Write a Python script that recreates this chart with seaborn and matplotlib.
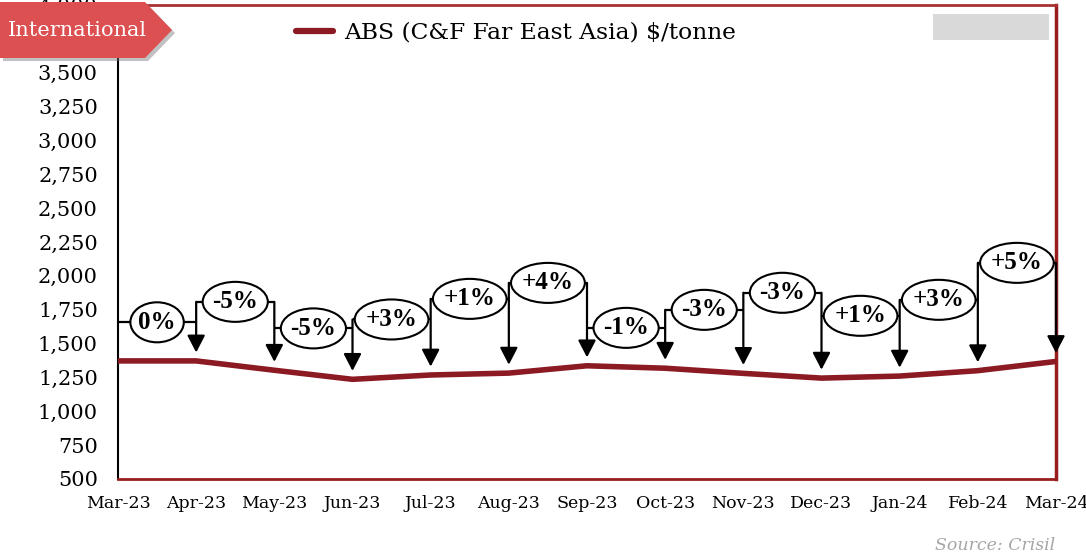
import numpy as np
import pandas as pd
import matplotlib
matplotlib.use("Agg")
import matplotlib.pyplot as plt
from matplotlib.patches import Polygon, Rectangle, Ellipse
from matplotlib.ticker import FuncFormatter
import seaborn as sns

# Monthly ABS prices, C&F Far East Asia ($/tonne)
months = ["Mar-23", "Apr-23", "May-23", "Jun-23", "Jul-23", "Aug-23", "Sep-23",
          "Oct-23", "Nov-23", "Dec-23", "Jan-24", "Feb-24", "Mar-24"]
abs_price = [1372, 1372, 1303, 1236, 1268, 1282, 1336, 1318, 1280, 1245, 1260, 1300, 1368]
series_name = "ABS (C&F Far East Asia) $/tonne"
y_ticks = list(range(500, 4001, 250))

# vertical placement of the month-on-month change callouts
callout_y = [1657, 1808, 1612, 1678, 1830, 1948, 1616, 1749, 1875, 1705, 1823, 2096]

LINE = "#8b1a23"
AXRED = "#981e1e"
BADGE = "#dc5052"

sns.set_theme(style="white")
plt.rcParams["font.family"] = ["DejaVu Serif"]
plt.rcParams["text.color"] = "black"

W, H = 1086, 559
fig = plt.figure(figsize=(W / 100, H / 100), dpi=100)
ax = fig.add_axes([118 / W, 80 / H, 938 / W, 474 / H])

df = pd.DataFrame({"month": np.arange(len(months)), "price": abs_price,
                   "series": series_name})
sns.lineplot(data=df, x="month", y="price", hue="series", palette=[LINE],
             linewidth=4, ax=ax, zorder=6)

ax.set_xlim(0, len(months) - 1)
ax.set_ylim(y_ticks[0], y_ticks[-1])
ax.set_xticks(np.arange(len(months)))
ax.set_xticklabels(months)
ax.set_yticks(y_ticks)
ax.yaxis.set_major_formatter(FuncFormatter(lambda v, p: f"{int(v):,}"))
ax.set_xlabel("")
ax.set_ylabel("")

for lab in ax.get_yticklabels():
    lab.set_fontsize(15)
for lab in ax.get_xticklabels():
    lab.set_fontsize(12.5)

ax.tick_params(axis="x", direction="out", length=4.5, width=1.5, color=AXRED,
               pad=7, labelcolor="black")
ax.tick_params(axis="y", direction="out", length=4.5, width=1.5, color="black",
               pad=10, labelcolor="black")
ax.spines["left"].set_color("black")
ax.spines["left"].set_linewidth(1.5)
ax.spines["bottom"].set_color(AXRED)
ax.spines["bottom"].set_linewidth(2)
ax.spines["right"].set_color(AXRED)
ax.spines["right"].set_linewidth(2.5)
ax.spines["top"].set_color("#a83232")
ax.spines["top"].set_linewidth(2)
ax.grid(False)

# month-on-month change callouts with leader arrows
n = len(abs_price)
changes = [round((abs_price[i + 1] / abs_price[i] - 1) * 100) for i in range(n - 1)]
labels = [f"{c:+d}%" if c != 0 else "0%" for c in changes]

renderer = fig.canvas.get_renderer()
x_per_px = (len(months) - 1) / ax.bbox.width
y_per_px = (y_ticks[-1] - y_ticks[0]) / ax.bbox.height
ell_h_px = 40

for i, (lab, yc) in enumerate(zip(labels, callout_y)):
    ax.plot([i, i + 1], [yc, yc], color="black", lw=1.6, zorder=3,
            clip_on=False, solid_capstyle="butt")
    t = ax.text(i + 0.5, yc, lab, ha="center", va="center", fontsize=18,
                fontweight="bold", family="Liberation Serif", zorder=5)
    w_px = t.get_window_extent(renderer=renderer).width
    ax.add_patch(Ellipse((i + 0.5, yc), width=(w_px * 1.42) * x_per_px,
                         height=ell_h_px * y_per_px, fc="white", ec="black",
                         lw=1.5, zorder=4, clip_on=False))

for j in range(1, n):
    top = callout_y[j - 1] if j == n - 1 else max(callout_y[j - 1], callout_y[j])
    ax.annotate("", xy=(j, abs_price[j] + 62), xytext=(j, top),
                arrowprops=dict(arrowstyle="-|>,head_width=0.27,head_length=0.52",
                                color="black", lw=1.6, shrinkA=0, shrinkB=0,
                                mutation_scale=20),
                annotation_clip=False, zorder=7)

leg = ax.legend(loc="center left", bbox_to_anchor=(296 / W, 1 - 33 / H),
                bbox_transform=fig.transFigure, frameon=False, fontsize=16.8,
                handlelength=1.6, handletextpad=0.45, borderpad=0, borderaxespad=0)
for t in leg.get_texts():
    t.set_color("black")
for h in leg.get_lines():
    h.set_linewidth(4.5)
    h.set_solid_capstyle("round")

# placeholder box, top right
fig.add_artist(Rectangle((933 / W, 1 - 40 / H), 116 / W, 26 / H,
                         transform=fig.transFigure, fc="#d9d9d9", ec="none", zorder=5))

# section badge, top left
badge = [(0, 2), (145, 2), (172, 30), (145, 58), (0, 58)]
shadow = [((x + 3) / W, 1 - (y + 3) / H) for x, y in badge]
fig.add_artist(Polygon(shadow, closed=True, transform=fig.transFigure,
                       fc="#777777", ec="none", alpha=0.45, zorder=9))
fig.add_artist(Polygon([(x / W, 1 - y / H) for x, y in badge], closed=True,
                       transform=fig.transFigure, fc=BADGE, ec="none", zorder=10))
fig.text(77 / W, 1 - 30 / H, "International", ha="center", va="center",
         color="white", fontsize=15, zorder=11)

fig.text(1055 / W, 1 - 545 / H, "Source: Crisil", ha="right", va="center",
         style="italic", color="#a6a6a6", fontsize=12.5)

fig.savefig("out.png", dpi=100)
